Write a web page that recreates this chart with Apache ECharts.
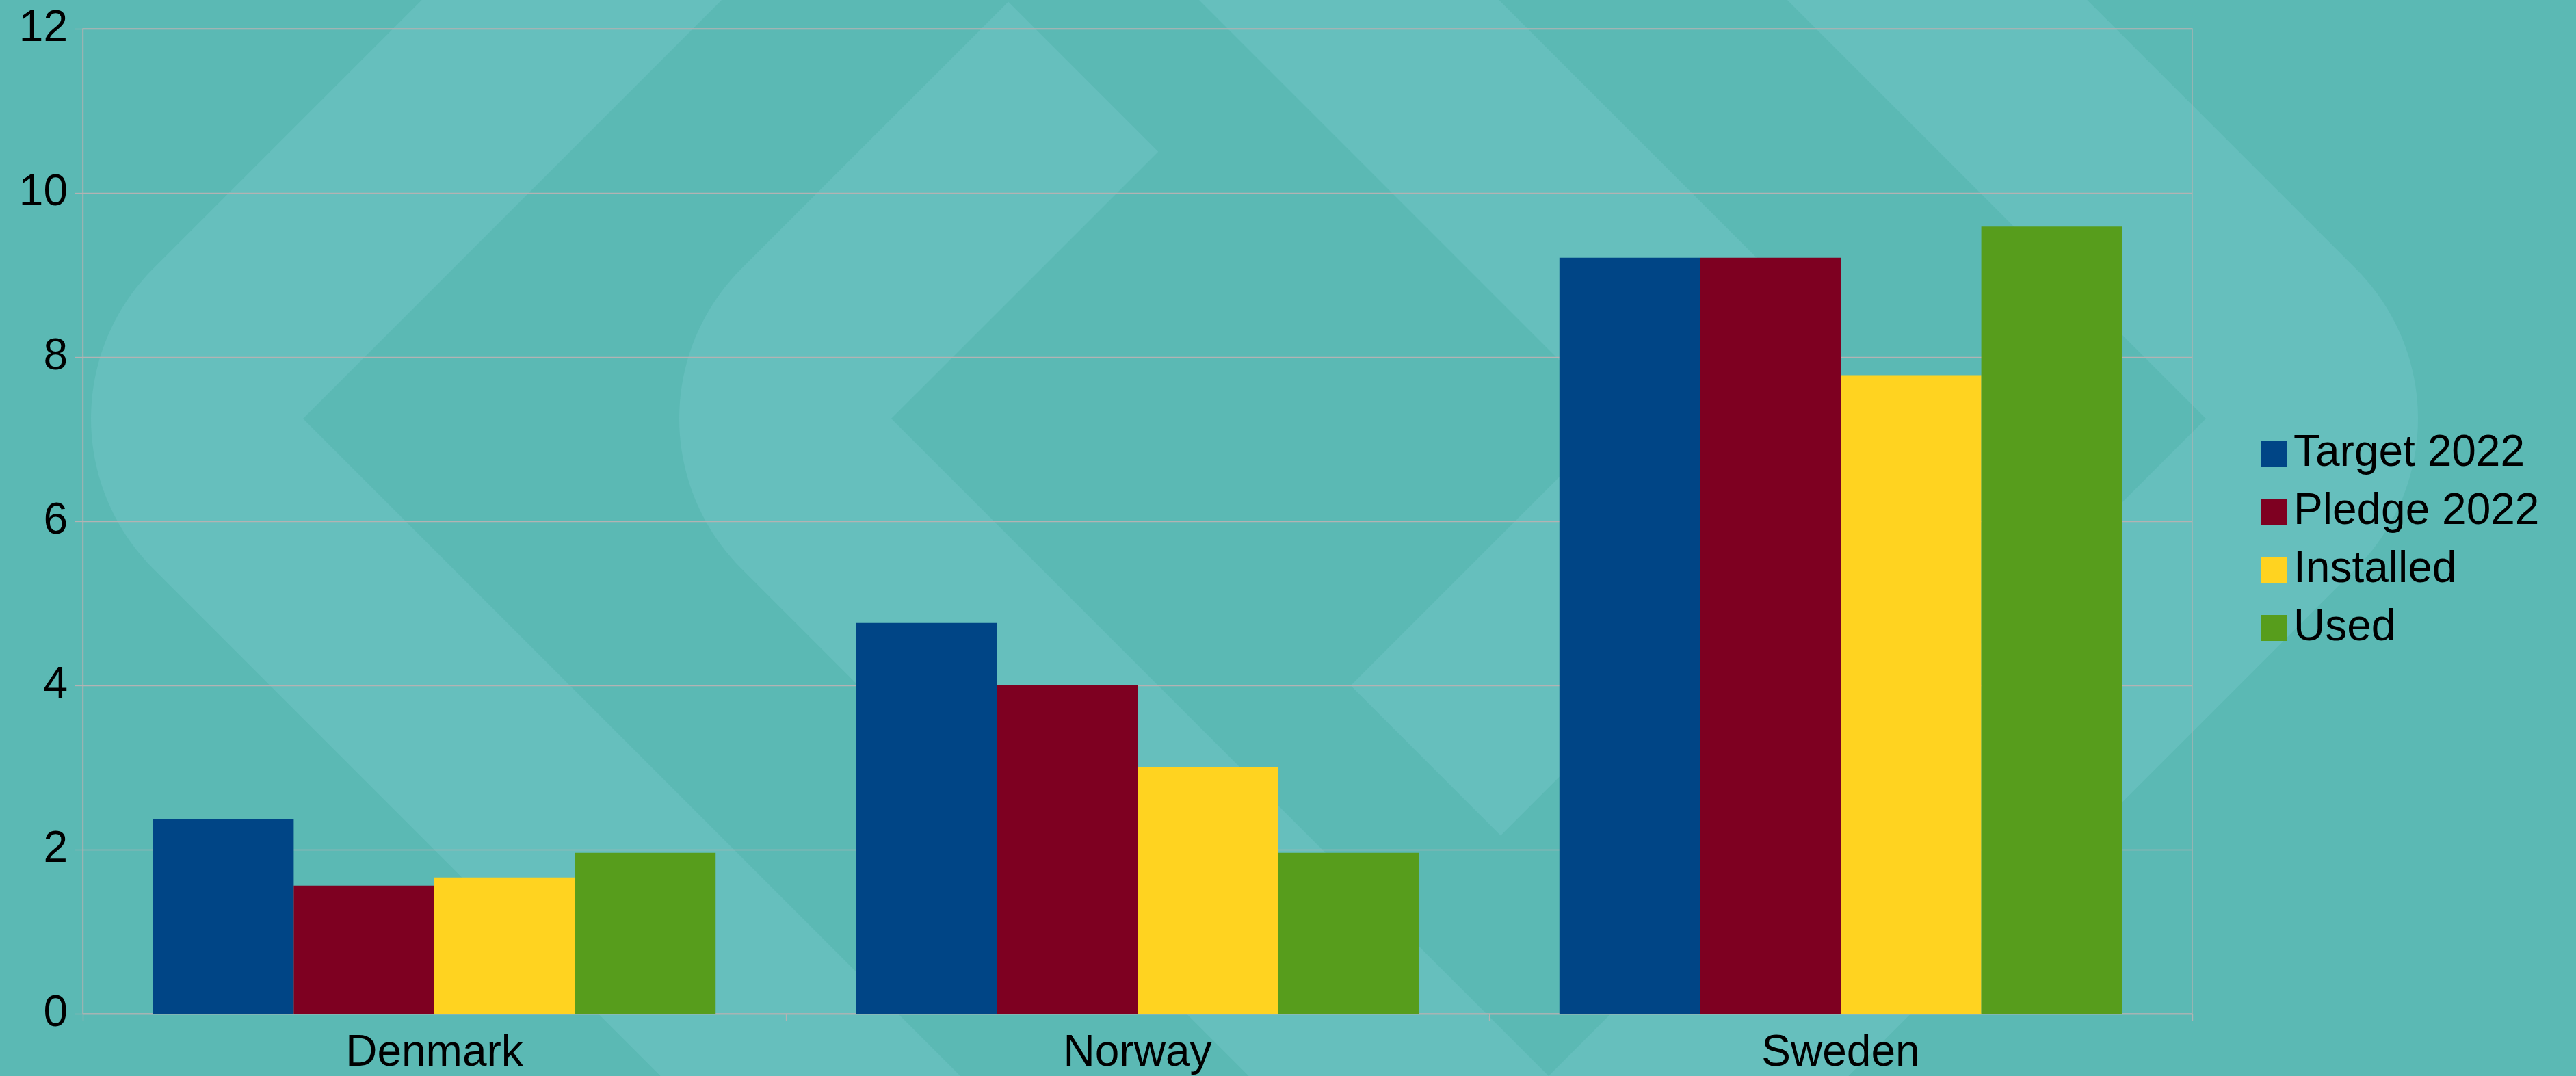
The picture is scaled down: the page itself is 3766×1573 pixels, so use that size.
<!DOCTYPE html>
<html>
<head>
<meta charset="utf-8">
<script src="https://cdn.jsdelivr.net/npm/echarts@6/dist/echarts.min.js"></script>
<style>
  html, body { margin: 0; padding: 0; background: #5BB9B4; }
  #chart { width: 3766px; height: 1573px; }
</style>
</head>
<body>
<div id="chart"></div>
<script>
// ---- Data ----
const categories = ['Denmark', 'Norway', 'Sweden'];
const seriesNames = ['Target 2022', 'Pledge 2022', 'Installed', 'Used'];
const target2022 = [2.37, 4.76, 9.21];
const pledge2022 = [1.56, 4.0, 9.21];
const installed = [1.66, 3.0, 7.78];
const used = [1.96, 1.96, 9.59];
const yMin = 0, yMax = 12, yInterval = 2;

// ---- Styling ----
const seriesColors = ['#004586', '#7E0021', '#FFD320', '#579D1C'];
const bgColor = '#5BB9B4';
const patternColor = '#66BFBD';
const lineColor = '#b3b3b3';
const font = 'Liberation Sans';

// ---- Decorative background pattern (chevrons) ----
function chevron(px, py, s, upperLen, lowerLen, w) {
  const r2 = Math.SQRT1_2;
  const up = [s * r2, -r2], upN = [-s * r2, -r2];
  const lo = [s * r2, r2], loN = [-s * r2, r2];
  const pts = [];
  pts.push([px + up[0] * upperLen, py + up[1] * upperLen]);
  pts.push([px, py]);
  pts.push([px + lo[0] * lowerLen, py + lo[1] * lowerLen]);
  pts.push([px + lo[0] * lowerLen + loN[0] * w, py + lo[1] * lowerLen + loN[1] * w]);
  const a0 = Math.atan2(loN[1], loN[0]);
  const a1 = Math.atan2(upN[1], upN[0]);
  let da = a1 - a0;
  if (s === 1) { if (da < 0) da += 2 * Math.PI; } else { if (da > 0) da -= 2 * Math.PI; }
  const n = 40;
  for (let i = 0; i <= n; i++) {
    const a = a0 + da * i / n;
    pts.push([px + Math.cos(a) * w, py + Math.sin(a) * w]);
  }
  pts.push([px + up[0] * upperLen + upN[0] * w, py + up[1] * upperLen + upN[1] * w]);
  return {
    type: 'polygon', silent: true, z: -10,
    shape: { points: pts },
    style: { fill: patternColor }
  };
}
const W = 310;
const graphics = [
  chevron(443, 612, 1, 2200, 2200, W),
  chevron(1303, 612, 1, 552, 2200, W),
  chevron(3225, 612, -1, 2200, 2200, W),
  chevron(2365, 612, -1, 2200, 552, W)
];

const seriesData = [target2022, pledge2022, installed, used];

const chart = echarts.init(document.getElementById('chart'), null, { renderer: 'canvas' });
chart.setOption({
  backgroundColor: bgColor,
  animation: false,
  textStyle: { fontFamily: font },
  graphic: graphics,
  grid: {
    left: 121, right: 561, top: 42, bottom: 91,
    show: true, borderColor: lineColor, borderWidth: 1.3,
    backgroundColor: 'transparent'
  },
  legend: {
    orient: 'vertical',
    left: 3300, top: 626,
    itemWidth: 38, itemHeight: 38, itemGap: 21,
    icon: 'rect',
    data: seriesNames,
    textStyle: { fontFamily: font, fontSize: 64, color: '#000', padding: [0, 0, 0, 5] }
  },
  xAxis: {
    type: 'category',
    data: categories,
    axisLine: { show: true, lineStyle: { color: lineColor, width: 1.3 } },
    axisTick: { show: true, length: 11, lineStyle: { color: lineColor, width: 1.3 } },
    axisLabel: { fontFamily: font, fontSize: 64, color: '#000', margin: 26 },
    splitLine: { show: false }
  },
  yAxis: {
    type: 'value',
    min: yMin, max: yMax, interval: yInterval,
    axisLine: { show: true, lineStyle: { color: lineColor, width: 1.3 } },
    axisTick: { show: true, length: 11, lineStyle: { color: lineColor, width: 1.3 } },
    axisLabel: { fontFamily: font, fontSize: 64, color: '#000', margin: 22, padding: [8, 0, 0, 0] },
    splitLine: { show: true, lineStyle: { color: lineColor, width: 1.3 } }
  },
  series: seriesNames.map((name, i) => ({
    name: name,
    type: 'bar',
    data: seriesData[i],
    barGap: '0%',
    barCategoryGap: '20%',
    itemStyle: { color: seriesColors[i] }
  }))
});
</script>
</body>
</html>
